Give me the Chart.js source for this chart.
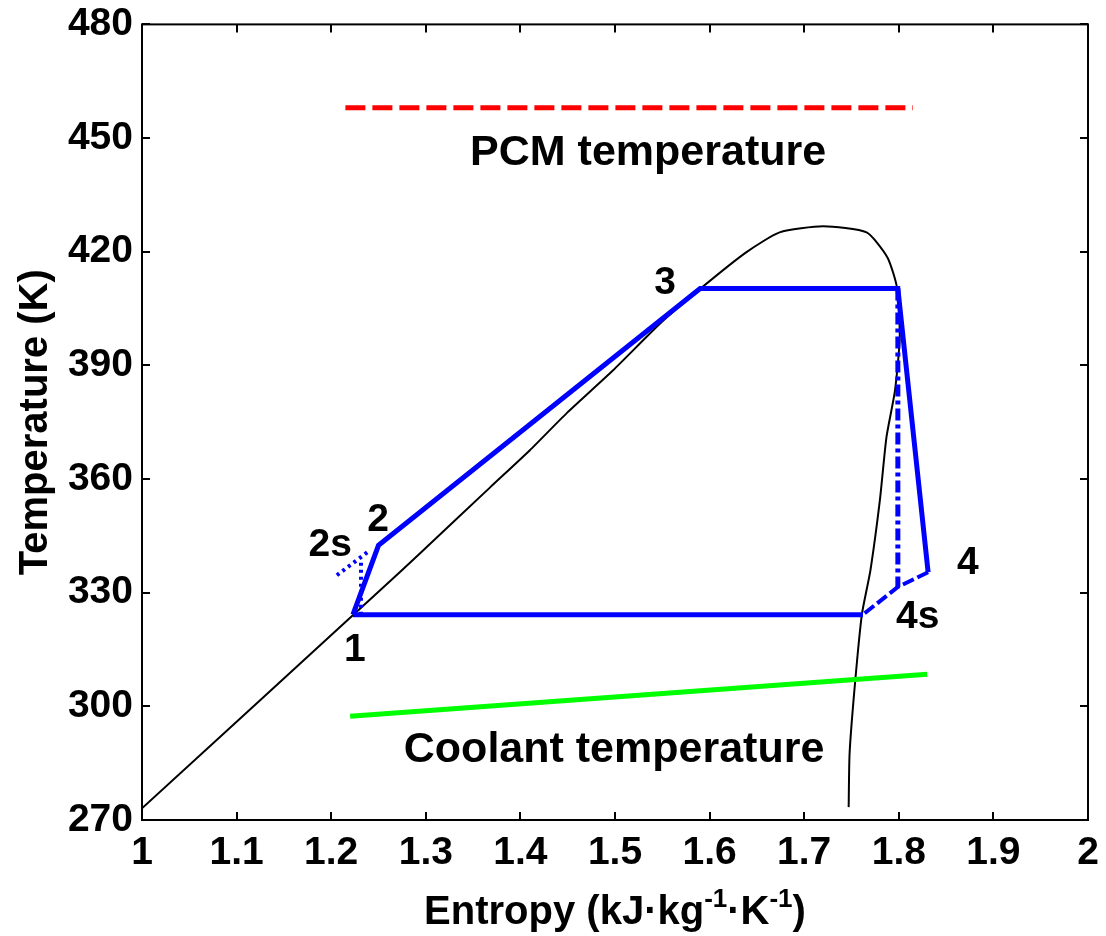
<!DOCTYPE html>
<html>
<head>
<meta charset="utf-8">
<title>Temperature-entropy diagram</title>
<script src="https://cdn.jsdelivr.net/npm/chart.js@4.4.1/dist/chart.umd.min.js"></script>
<style>
  html, body { margin: 0; padding: 0; background: #fff; }
  canvas { display: block; }
</style>
</head>
<body>
<canvas id="tsChart" width="1106" height="936"></canvas>
<script>
// saturation dome (liquid line up to the crest, then vapour line down)
const domeS = [1.000, 1.252, 1.294, 1.368, 1.410, 1.449, 1.498, 1.548, 1.592, 1.639, 1.674, 1.720,
               1.766, 1.788, 1.798, 1.801, 1.796, 1.787, 1.780, 1.770, 1.761, 1.754, 1.748, 1.747];
const domeT = [273.1, 330.7, 340.4, 357.8, 367.6, 377.4, 388.7, 401.1, 410.6, 419.9, 425.1, 426.7,
               425.1, 418.5, 410.6, 397.4, 383.4, 371.1, 354.4, 335.9, 324.3, 306.9, 287.7, 273.4];

// cycle: 1 -> 2 -> 3 -> evaporator end -> 4
const cycleS = [1.223, 1.250, 1.590, 1.799, 1.831];
const cycleT = [324.2, 342.5, 410.3, 410.3, 335.4];
// condenser, saturated vapour back to 1
const condS = [1.762, 1.223];
const condT = [324.2, 324.2];
// 4 -> 4s -> saturated vapour (desuperheating)
const desupS = [1.831, 1.799, 1.762];
const desupT = [335.4, 331.5, 324.2];
// isentropic expansion 3' -> 4s
const expS = [1.799, 1.799];
const expT = [410.3, 331.5];
// isentropic compression 1 -> 2s and 2s -> 2
const compS = [1.2315, 1.2315];
const compT = [324.2, 338.6];
const comp2S = [1.206, 1.241];
const comp2T = [334.6, 341.2];

// heat source / sink temperatures
const pcmS = [1.215, 1.815];
const pcmT = [458, 458];
const coolS = [1.22, 1.83];
const coolT = [297.4, 308.5];

const xTicks = [1, 1.1, 1.2, 1.3, 1.4, 1.5, 1.6, 1.7, 1.8, 1.9, 2];
const yTicks = [270, 300, 330, 360, 390, 420, 450, 480];

const notes = [
  { text: 'PCM temperature', s: 1.535, t: 446.0, size: 43 },
  { text: 'Coolant temperature', s: 1.499, t: 288.5, size: 43 },
  { text: '1', s: 1.225, t: 314.8, size: 39 },
  { text: '2', s: 1.2495, t: 349.1, size: 39 },
  { text: '2s', s: 1.199, t: 342.5, size: 39 },
  { text: '3', s: 1.553, t: 411.7, size: 39 },
  { text: '4', s: 1.873, t: 337.8, size: 39 },
  { text: '4s', s: 1.820, t: 323.5, size: 39 }
];

const FONT = '"Liberation Sans", Arial, sans-serif';

function pts(xs, ys) {
  return xs.map((x, i) => ({ x: x, y: ys[i] }));
}

function line(xs, ys, color, width, dash, tension) {
  return {
    data: pts(xs, ys),
    showLine: true,
    borderColor: color,
    backgroundColor: color,
    borderWidth: width,
    borderDash: dash || [],
    pointRadius: 0,
    tension: tension || 0
  };
}

// box around the plot, inward ticks on all four sides, text labels
const decor = {
  id: 'decor',
  afterDatasetsDraw(chart) {
    const { ctx, chartArea: a, scales: { x, y } } = chart;
    ctx.save();
    ctx.strokeStyle = '#000';
    ctx.lineWidth = 2;
    ctx.strokeRect(a.left, a.top, a.right - a.left, a.bottom - a.top);
    ctx.beginPath();
    xTicks.forEach(v => {
      const px = Math.round(x.getPixelForValue(v));
      ctx.moveTo(px, a.bottom); ctx.lineTo(px, a.bottom - 8);
      ctx.moveTo(px, a.top); ctx.lineTo(px, a.top + 8);
    });
    yTicks.forEach(v => {
      const py = Math.round(y.getPixelForValue(v));
      ctx.moveTo(a.left, py); ctx.lineTo(a.left + 8, py);
      ctx.moveTo(a.right, py); ctx.lineTo(a.right - 8, py);
    });
    ctx.stroke();

    ctx.fillStyle = '#000';
    ctx.textAlign = 'center';
    ctx.textBaseline = 'middle';
    notes.forEach(n => {
      ctx.font = 'bold ' + n.size + 'px ' + FONT;
      ctx.fillText(n.text, x.getPixelForValue(n.s), y.getPixelForValue(n.t));
    });

    // x axis title with superscripts
    const parts = [
      { t: 'Entropy (kJ\u00B7kg', sup: false },
      { t: '-1', sup: true },
      { t: '\u00B7K', sup: false },
      { t: '-1', sup: true },
      { t: ')', sup: false }
    ];
    const big = 'bold 40px ' + FONT;
    const small = 'bold 26px ' + FONT;
    let total = 0;
    parts.forEach(p => { ctx.font = p.sup ? small : big; p.w = ctx.measureText(p.t).width; total += p.w; });
    let cx = (a.left + a.right) / 2 - total / 2;
    const base = 924;
    ctx.textAlign = 'left';
    ctx.textBaseline = 'alphabetic';
    parts.forEach(p => {
      ctx.font = p.sup ? small : big;
      ctx.fillText(p.t, cx, p.sup ? base - 17 : base);
      cx += p.w;
    });
    ctx.restore();
  }
};

new Chart(document.getElementById('tsChart'), {
  type: 'scatter',
  data: {
    datasets: [
      line(cycleS, cycleT, '#0000ff', 5),
      line(condS, condT, '#0000ff', 5),
      line(desupS, desupT, '#0000ff', 4, [12, 4]),
      line(expS, expT, '#0000ff', 5, [12, 4, 4, 4]),
      line(compS, compT, '#0000ff', 4, [3, 4]),
      line(comp2S, comp2T, '#0000ff', 4, [3, 4]),
      line(pcmS, pcmT, '#ff0000', 5, [20, 7]),
      line(coolS, coolT, '#00ff00', 5),
      line(domeS, domeT, '#000000', 2, null, 0.2)
    ]
  },
  options: {
    responsive: false,
    animation: false,
    layout: { padding: { top: 16, right: 18, left: 0, bottom: 0 } },
    plugins: { legend: { display: false }, tooltip: { enabled: false } },
    scales: {
      x: {
        type: 'linear',
        min: 1,
        max: 2,
        afterBuildTicks: s => { s.ticks = xTicks.map(v => ({ value: v })); },
        afterFit: s => { s.height = 116; },
        grid: { display: false },
        border: { display: false },
        ticks: {
          color: '#000',
          padding: 2,
          maxRotation: 0,
          font: { family: FONT, size: 39, weight: 'bold' },
          callback: v => String(v)
        }
      },
      y: {
        type: 'linear',
        min: 270,
        max: 480,
        afterBuildTicks: s => { s.ticks = yTicks.map(v => ({ value: v })); },
        afterFit: s => { s.width = 142; },
        grid: { display: false },
        border: { display: false },
        ticks: {
          color: '#000',
          padding: 1,
          font: { family: FONT, size: 39, weight: 'bold' },
          callback: v => String(v)
        },
        title: {
          display: true,
          text: 'Temperature (K)',
          color: '#000',
          padding: { top: 12, bottom: 0 },
          font: { family: FONT, size: 40, weight: 'bold' }
        }
      }
    }
  },
  plugins: [decor]
});
</script>
</body>
</html>
